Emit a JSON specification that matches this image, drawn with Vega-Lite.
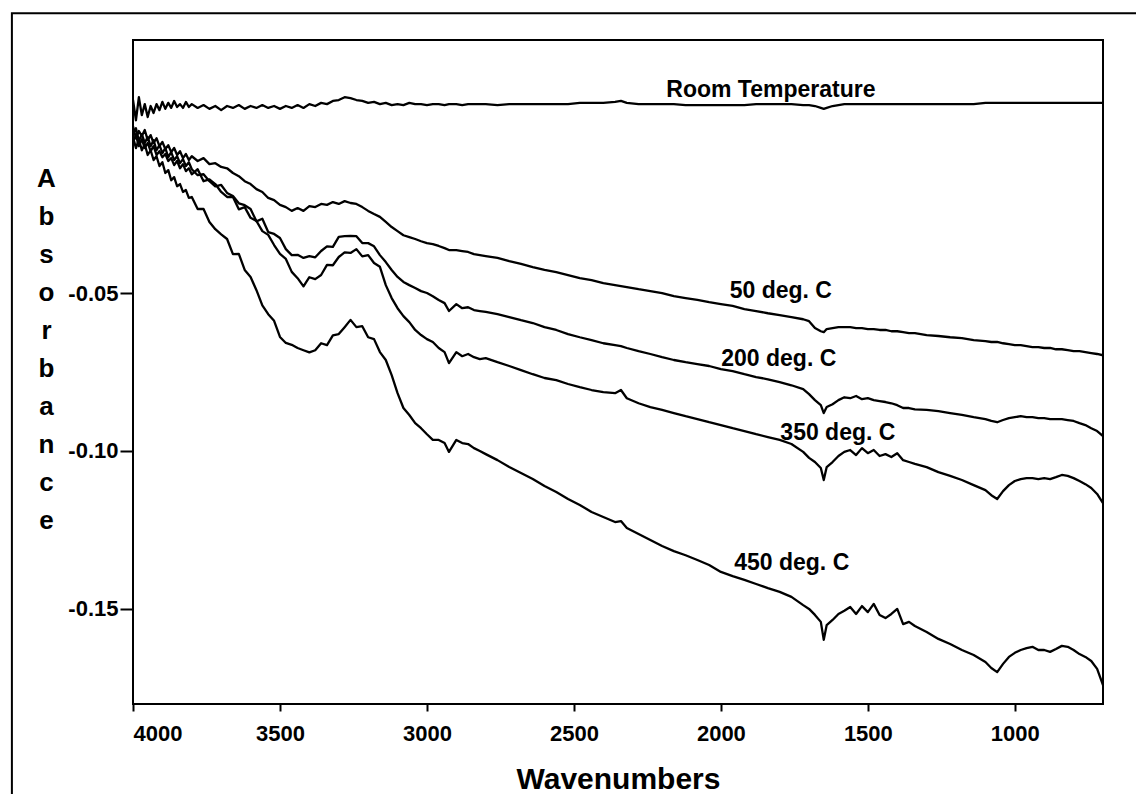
{
"$schema":"https://vega.github.io/schema/vega-lite/v6.json",
"width":970,"height":664,
"autosize":{"type":"none"},
"padding":{"left":133,"top":40,"right":33,"bottom":90},
"background":"white",
"config":{"view":{"stroke":"black","strokeWidth":2},"font":"Liberation Sans"},
"datasets":{
"spec":[
{"w":4000,"r":0.0111,"b":0.0028,"c":0.0006,"d":-0.0022,"e":-0.0006},
{"w":3990,"r":0.0047,"b":-0.0010,"c":0.0022,"d":0.0000,"e":-0.0041},
{"w":3980,"r":0.0120,"b":0.0013,"c":-0.0019,"d":-0.0035,"e":-0.0013},
{"w":3970,"r":0.0063,"b":-0.0003,"c":0.0003,"d":-0.0013,"e":-0.0048},
{"w":3960,"r":0.0098,"b":0.0016,"c":-0.0025,"d":-0.0041,"e":-0.0029},
{"w":3950,"r":0.0057,"b":-0.0016,"c":-0.0006,"d":-0.0025,"e":-0.0063},
{"w":3940,"r":0.0092,"b":0.0000,"c":-0.0035,"d":-0.0051,"e":-0.0048},
{"w":3930,"r":0.0070,"b":-0.0025,"c":-0.0016,"d":-0.0035,"e":-0.0079},
{"w":3920,"r":0.0098,"b":-0.0010,"c":-0.0048,"d":-0.0063,"e":-0.0067},
{"w":3910,"r":0.0079,"b":-0.0035,"c":-0.0032,"d":-0.0051,"e":-0.0098},
{"w":3900,"r":0.0105,"b":-0.0022,"c":-0.0057,"d":-0.0070,"e":-0.0086},
{"w":3890,"r":0.0083,"b":-0.0044,"c":-0.0041,"d":-0.0060,"e":-0.0120},
{"w":3880,"r":0.0102,"b":-0.0032,"c":-0.0070,"d":-0.0082,"e":-0.0111},
{"w":3870,"r":0.0086,"b":-0.0054,"c":-0.0054,"d":-0.0073,"e":-0.0143},
{"w":3860,"r":0.0108,"b":-0.0041,"c":-0.0079,"d":-0.0095,"e":-0.0133},
{"w":3850,"r":0.0089,"b":-0.0063,"c":-0.0067,"d":-0.0082,"e":-0.0162},
{"w":3840,"r":0.0098,"b":-0.0051,"c":-0.0089,"d":-0.0105,"e":-0.0155},
{"w":3830,"r":0.0086,"b":-0.0073,"c":-0.0076,"d":-0.0092,"e":-0.0180},
{"w":3820,"r":0.0105,"b":-0.0060,"c":-0.0098,"d":-0.0114,"e":-0.0174},
{"w":3810,"r":0.0089,"b":-0.0079,"c":-0.0086,"d":-0.0105,"e":-0.0199},
{"w":3800,"r":0.0098,"b":-0.0067,"c":-0.0108,"d":-0.0124,"e":-0.0196},
{"w":3780,"r":0.0086,"b":-0.0082,"c":-0.0127,"d":-0.0108,"e":-0.0234},
{"w":3760,"r":0.0095,"b":-0.0073,"c":-0.0124,"d":-0.0146,"e":-0.0234},
{"w":3740,"r":0.0083,"b":-0.0092,"c":-0.0146,"d":-0.0140,"e":-0.0275},
{"w":3720,"r":0.0092,"b":-0.0089,"c":-0.0162,"d":-0.0155,"e":-0.0298},
{"w":3700,"r":0.0079,"b":-0.0101,"c":-0.0158,"d":-0.0180,"e":-0.0314},
{"w":3680,"r":0.0092,"b":-0.0105,"c":-0.0183,"d":-0.0196,"e":-0.0329},
{"w":3660,"r":0.0086,"b":-0.0120,"c":-0.0193,"d":-0.0196,"e":-0.0377},
{"w":3640,"r":0.0095,"b":-0.0130,"c":-0.0216,"d":-0.0235,"e":-0.0376},
{"w":3620,"r":0.0083,"b":-0.0146,"c":-0.0222,"d":-0.0228,"e":-0.0427},
{"w":3600,"r":0.0092,"b":-0.0155,"c":-0.0234,"d":-0.0262,"e":-0.0449},
{"w":3580,"r":0.0086,"b":-0.0171,"c":-0.0273,"d":-0.0272,"e":-0.0491},
{"w":3560,"r":0.0095,"b":-0.0180,"c":-0.0265,"d":-0.0304,"e":-0.0539},
{"w":3540,"r":0.0086,"b":-0.0199,"c":-0.0307,"d":-0.0316,"e":-0.0567},
{"w":3520,"r":0.0092,"b":-0.0206,"c":-0.0313,"d":-0.0348,"e":-0.0588},
{"w":3500,"r":0.0083,"b":-0.0221,"c":-0.0326,"d":-0.0376,"e":-0.0639},
{"w":3480,"r":0.0092,"b":-0.0228,"c":-0.0361,"d":-0.0392,"e":-0.0658},
{"w":3460,"r":0.0086,"b":-0.0240,"c":-0.0380,"d":-0.0433,"e":-0.0664},
{"w":3440,"r":0.0095,"b":-0.0231,"c":-0.0379,"d":-0.0453,"e":-0.0674},
{"w":3420,"r":0.0086,"b":-0.0240,"c":-0.0389,"d":-0.0479,"e":-0.0681},
{"w":3400,"r":0.0098,"b":-0.0225,"c":-0.0383,"d":-0.0450,"e":-0.0688},
{"w":3380,"r":0.0092,"b":-0.0228,"c":-0.0387,"d":-0.0456,"e":-0.0681},
{"w":3360,"r":0.0102,"b":-0.0218,"c":-0.0367,"d":-0.0443,"e":-0.0659},
{"w":3340,"r":0.0098,"b":-0.0221,"c":-0.0352,"d":-0.0411,"e":-0.0665},
{"w":3320,"r":0.0108,"b":-0.0212,"c":-0.0354,"d":-0.0412,"e":-0.0634},
{"w":3300,"r":0.0111,"b":-0.0218,"c":-0.0322,"d":-0.0386,"e":-0.0630},
{"w":3280,"r":0.0120,"b":-0.0209,"c":-0.0320,"d":-0.0371,"e":-0.0608},
{"w":3260,"r":0.0117,"b":-0.0215,"c":-0.0319,"d":-0.0373,"e":-0.0585},
{"w":3240,"r":0.0111,"b":-0.0218,"c":-0.0320,"d":-0.0361,"e":-0.0608},
{"w":3220,"r":0.0108,"b":-0.0228,"c":-0.0342,"d":-0.0384,"e":-0.0605},
{"w":3200,"r":0.0102,"b":-0.0240,"c":-0.0342,"d":-0.0380,"e":-0.0640},
{"w":3180,"r":0.0105,"b":-0.0250,"c":-0.0352,"d":-0.0405,"e":-0.0646},
{"w":3160,"r":0.0098,"b":-0.0259,"c":-0.0380,"d":-0.0417,"e":-0.0687},
{"w":3140,"r":0.0102,"b":-0.0275,"c":-0.0402,"d":-0.0475,"e":-0.0712},
{"w":3120,"r":0.0095,"b":-0.0291,"c":-0.0427,"d":-0.0516,"e":-0.0760},
{"w":3100,"r":0.0098,"b":-0.0304,"c":-0.0449,"d":-0.0548,"e":-0.0817},
{"w":3080,"r":0.0095,"b":-0.0317,"c":-0.0465,"d":-0.0573,"e":-0.0864},
{"w":3060,"r":0.0102,"b":-0.0323,"c":-0.0475,"d":-0.0592,"e":-0.0886},
{"w":3040,"r":0.0098,"b":-0.0329,"c":-0.0484,"d":-0.0617,"e":-0.0912},
{"w":3020,"r":0.0098,"b":-0.0336,"c":-0.0494,"d":-0.0633,"e":-0.0928},
{"w":3000,"r":0.0095,"b":-0.0342,"c":-0.0500,"d":-0.0646,"e":-0.0947},
{"w":2980,"r":0.0098,"b":-0.0345,"c":-0.0510,"d":-0.0655,"e":-0.0965},
{"w":2960,"r":0.0098,"b":-0.0351,"c":-0.0522,"d":-0.0674,"e":-0.0965},
{"w":2940,"r":0.0095,"b":-0.0358,"c":-0.0532,"d":-0.0687,"e":-0.0975},
{"w":2925,"r":0.0098,"b":-0.0364,"c":-0.0557,"d":-0.0722,"e":-0.1003},
{"w":2900,"r":0.0098,"b":-0.0364,"c":-0.0535,"d":-0.0687,"e":-0.0965},
{"w":2880,"r":0.0095,"b":-0.0367,"c":-0.0548,"d":-0.0700,"e":-0.0975},
{"w":2860,"r":0.0098,"b":-0.0370,"c":-0.0545,"d":-0.0693,"e":-0.0978},
{"w":2840,"r":0.0098,"b":-0.0377,"c":-0.0554,"d":-0.0703,"e":-0.0991},
{"w":2820,"r":0.0098,"b":-0.0380,"c":-0.0557,"d":-0.0709,"e":-0.1000},
{"w":2800,"r":0.0098,"b":-0.0383,"c":-0.0560,"d":-0.0706,"e":-0.1010},
{"w":2760,"r":0.0095,"b":-0.0389,"c":-0.0567,"d":-0.0719,"e":-0.1029},
{"w":2720,"r":0.0098,"b":-0.0399,"c":-0.0576,"d":-0.0731,"e":-0.1051},
{"w":2680,"r":0.0098,"b":-0.0408,"c":-0.0586,"d":-0.0744,"e":-0.1070},
{"w":2640,"r":0.0098,"b":-0.0418,"c":-0.0595,"d":-0.0757,"e":-0.1089},
{"w":2600,"r":0.0098,"b":-0.0427,"c":-0.0608,"d":-0.0769,"e":-0.1111},
{"w":2560,"r":0.0098,"b":-0.0434,"c":-0.0617,"d":-0.0776,"e":-0.1130},
{"w":2520,"r":0.0098,"b":-0.0443,"c":-0.0630,"d":-0.0788,"e":-0.1152},
{"w":2480,"r":0.0102,"b":-0.0453,"c":-0.0640,"d":-0.0798,"e":-0.1171},
{"w":2440,"r":0.0102,"b":-0.0459,"c":-0.0649,"d":-0.0807,"e":-0.1193},
{"w":2400,"r":0.0102,"b":-0.0469,"c":-0.0659,"d":-0.0814,"e":-0.1209},
{"w":2360,"r":0.0105,"b":-0.0475,"c":-0.0665,"d":-0.0817,"e":-0.1225},
{"w":2340,"r":0.0108,"b":-0.0478,"c":-0.0668,"d":-0.0807,"e":-0.1222},
{"w":2320,"r":0.0102,"b":-0.0481,"c":-0.0674,"d":-0.0833,"e":-0.1244},
{"w":2280,"r":0.0098,"b":-0.0488,"c":-0.0684,"d":-0.0849,"e":-0.1263},
{"w":2240,"r":0.0098,"b":-0.0494,"c":-0.0693,"d":-0.0861,"e":-0.1282},
{"w":2200,"r":0.0098,"b":-0.0500,"c":-0.0703,"d":-0.0870,"e":-0.1301},
{"w":2160,"r":0.0098,"b":-0.0510,"c":-0.0712,"d":-0.0880,"e":-0.1317},
{"w":2120,"r":0.0095,"b":-0.0516,"c":-0.0719,"d":-0.0890,"e":-0.1330},
{"w":2080,"r":0.0095,"b":-0.0522,"c":-0.0725,"d":-0.0899,"e":-0.1345},
{"w":2040,"r":0.0095,"b":-0.0529,"c":-0.0731,"d":-0.0909,"e":-0.1361},
{"w":2000,"r":0.0095,"b":-0.0535,"c":-0.0741,"d":-0.0918,"e":-0.1383},
{"w":1960,"r":0.0095,"b":-0.0541,"c":-0.0747,"d":-0.0928,"e":-0.1396},
{"w":1920,"r":0.0095,"b":-0.0551,"c":-0.0757,"d":-0.0937,"e":-0.1408},
{"w":1880,"r":0.0098,"b":-0.0557,"c":-0.0766,"d":-0.0947,"e":-0.1421},
{"w":1840,"r":0.0098,"b":-0.0564,"c":-0.0773,"d":-0.0956,"e":-0.1434},
{"w":1800,"r":0.0098,"b":-0.0570,"c":-0.0782,"d":-0.0965,"e":-0.1446},
{"w":1760,"r":0.0098,"b":-0.0576,"c":-0.0792,"d":-0.0978,"e":-0.1462},
{"w":1720,"r":0.0095,"b":-0.0583,"c":-0.0804,"d":-0.1003,"e":-0.1488},
{"w":1700,"r":0.0095,"b":-0.0589,"c":-0.0820,"d":-0.1022,"e":-0.1500},
{"w":1680,"r":0.0092,"b":-0.0611,"c":-0.0839,"d":-0.1035,"e":-0.1519},
{"w":1660,"r":0.0086,"b":-0.0621,"c":-0.0855,"d":-0.1054,"e":-0.1541},
{"w":1650,"r":0.0083,"b":-0.0624,"c":-0.0880,"d":-0.1092,"e":-0.1598},
{"w":1640,"r":0.0086,"b":-0.0614,"c":-0.0861,"d":-0.1051,"e":-0.1551},
{"w":1620,"r":0.0092,"b":-0.0611,"c":-0.0852,"d":-0.1035,"e":-0.1535},
{"w":1600,"r":0.0095,"b":-0.0608,"c":-0.0839,"d":-0.1016,"e":-0.1516},
{"w":1580,"r":0.0098,"b":-0.0608,"c":-0.0830,"d":-0.1003,"e":-0.1506},
{"w":1560,"r":0.0098,"b":-0.0608,"c":-0.0833,"d":-0.0997,"e":-0.1494},
{"w":1540,"r":0.0098,"b":-0.0611,"c":-0.0826,"d":-0.1013,"e":-0.1516},
{"w":1520,"r":0.0098,"b":-0.0611,"c":-0.0836,"d":-0.0991,"e":-0.1491},
{"w":1500,"r":0.0098,"b":-0.0614,"c":-0.0833,"d":-0.1007,"e":-0.1510},
{"w":1480,"r":0.0098,"b":-0.0614,"c":-0.0839,"d":-0.0997,"e":-0.1484},
{"w":1460,"r":0.0098,"b":-0.0617,"c":-0.0842,"d":-0.1016,"e":-0.1519},
{"w":1440,"r":0.0098,"b":-0.0617,"c":-0.0845,"d":-0.1010,"e":-0.1529},
{"w":1420,"r":0.0098,"b":-0.0621,"c":-0.0849,"d":-0.1019,"e":-0.1516},
{"w":1400,"r":0.0098,"b":-0.0621,"c":-0.0855,"d":-0.1007,"e":-0.1500},
{"w":1380,"r":0.0098,"b":-0.0624,"c":-0.0864,"d":-0.1029,"e":-0.1548},
{"w":1360,"r":0.0098,"b":-0.0627,"c":-0.0864,"d":-0.1035,"e":-0.1541},
{"w":1340,"r":0.0098,"b":-0.0627,"c":-0.0868,"d":-0.1041,"e":-0.1554},
{"w":1300,"r":0.0098,"b":-0.0633,"c":-0.0870,"d":-0.1051,"e":-0.1573},
{"w":1260,"r":0.0098,"b":-0.0636,"c":-0.0874,"d":-0.1067,"e":-0.1595},
{"w":1220,"r":0.0098,"b":-0.0640,"c":-0.0880,"d":-0.1079,"e":-0.1611},
{"w":1180,"r":0.0098,"b":-0.0643,"c":-0.0886,"d":-0.1092,"e":-0.1630},
{"w":1140,"r":0.0098,"b":-0.0649,"c":-0.0893,"d":-0.1108,"e":-0.1646},
{"w":1100,"r":0.0102,"b":-0.0652,"c":-0.0899,"d":-0.1124,"e":-0.1668},
{"w":1080,"r":0.0102,"b":-0.0655,"c":-0.0905,"d":-0.1140,"e":-0.1687},
{"w":1060,"r":0.0102,"b":-0.0655,"c":-0.0909,"d":-0.1152,"e":-0.1700},
{"w":1040,"r":0.0102,"b":-0.0659,"c":-0.0902,"d":-0.1127,"e":-0.1674},
{"w":1020,"r":0.0102,"b":-0.0662,"c":-0.0896,"d":-0.1108,"e":-0.1652},
{"w":1000,"r":0.0102,"b":-0.0665,"c":-0.0893,"d":-0.1095,"e":-0.1639},
{"w":980,"r":0.0102,"b":-0.0665,"c":-0.0890,"d":-0.1089,"e":-0.1630},
{"w":960,"r":0.0102,"b":-0.0668,"c":-0.0893,"d":-0.1086,"e":-0.1624},
{"w":940,"r":0.0102,"b":-0.0671,"c":-0.0893,"d":-0.1086,"e":-0.1620},
{"w":920,"r":0.0102,"b":-0.0671,"c":-0.0896,"d":-0.1089,"e":-0.1630},
{"w":900,"r":0.0102,"b":-0.0674,"c":-0.0896,"d":-0.1086,"e":-0.1630},
{"w":880,"r":0.0102,"b":-0.0674,"c":-0.0899,"d":-0.1089,"e":-0.1636},
{"w":860,"r":0.0102,"b":-0.0678,"c":-0.0899,"d":-0.1083,"e":-0.1627},
{"w":840,"r":0.0102,"b":-0.0678,"c":-0.0899,"d":-0.1076,"e":-0.1617},
{"w":820,"r":0.0102,"b":-0.0681,"c":-0.0902,"d":-0.1079,"e":-0.1620},
{"w":800,"r":0.0102,"b":-0.0684,"c":-0.0905,"d":-0.1086,"e":-0.1630},
{"w":780,"r":0.0102,"b":-0.0684,"c":-0.0912,"d":-0.1095,"e":-0.1643},
{"w":760,"r":0.0102,"b":-0.0687,"c":-0.0918,"d":-0.1105,"e":-0.1652},
{"w":740,"r":0.0102,"b":-0.0690,"c":-0.0928,"d":-0.1117,"e":-0.1665},
{"w":720,"r":0.0102,"b":-0.0693,"c":-0.0937,"d":-0.1136,"e":-0.1690},
{"w":700,"r":0.0102,"b":-0.0697,"c":-0.0953,"d":-0.1165,"e":-0.1741}
],
"labels":[
{"w":1830,"a":0.0142,"t":"Room Temperature"},
{"w":1796,"a":-0.0493,"t":"50 deg. C"},
{"w":1803,"a":-0.0709,"t":"200 deg. C"},
{"w":1602,"a":-0.0944,"t":"350 deg. C"},
{"w":1759,"a":-0.1355,"t":"450 deg. C"}
],
"frame":[{"w":4412,"w2":-800,"a":0.0386,"a2":-0.26}]
},
"encoding":{
 "x":{"field":"w","type":"quantitative","scale":{"domain":[700,4000],"reverse":true,"nice":false,"zero":false},
   "axis":{"values":[4000,3500,3000,2500,2000,1500,1000],"format":"d","grid":false,"domain":false,
    "tickColor":"black","tickWidth":2,"tickSize":7,"labelFont":"Liberation Sans","labelFontWeight":"bold","labelFontSize":22,"labelColor":"black","labelPadding":12,
    "title":"Wavenumbers","titleFont":"Liberation Sans","titleFontWeight":"bold","titleFontSize":30,"titleColor":"black","titleBaseline":"alphabetic","titleY":84}},
 "y":{"field":"a","type":"quantitative","scale":{"domain":[-0.1801,0.0301],"nice":false,"zero":false},
   "axis":{"values":[-0.05,-0.1,-0.15],"format":".2f","labelExpr":"replace(datum.label, '\u2212', '-')","grid":false,"domain":false,
    "tickColor":"black","tickWidth":2,"tickSize":13,"labelFont":"Liberation Sans","labelFontWeight":"bold","labelFontSize":22,"labelColor":"black","labelPadding":2,
    "title":["A","b","s","o","r","b","a","n","c","e"],"titleFont":"Liberation Sans","titleFontWeight":"bold","titleFontSize":26,"titleColor":"black",
    "titleAngle":0,"titleAlign":"center","titleBaseline":"alphabetic","titleX":-87,"titleY":146,"titleLineHeight":38}}
},
"layer":[
{"data":{"name":"spec"},
 "transform":[{"fold":["r","b","c","d","e"],"as":["s","a"]}],
 "mark":{"type":"line","stroke":"black","strokeWidth":2.3,"strokeJoin":"round","clip":true},
 "encoding":{"detail":{"field":"s","type":"nominal"}}},
{"data":{"name":"frame"},
 "mark":{"type":"rect","filled":false,"stroke":"black","strokeWidth":2,"clip":false},
 "encoding":{"x2":{"field":"w2"},"y2":{"field":"a2"}}},
{"data":{"name":"labels"},
 "mark":{"type":"text","font":"Liberation Sans","fontWeight":"bold","fontSize":23,"color":"black","align":"center","baseline":"middle"},
 "encoding":{"text":{"field":"t","type":"nominal"}}}
]
}
